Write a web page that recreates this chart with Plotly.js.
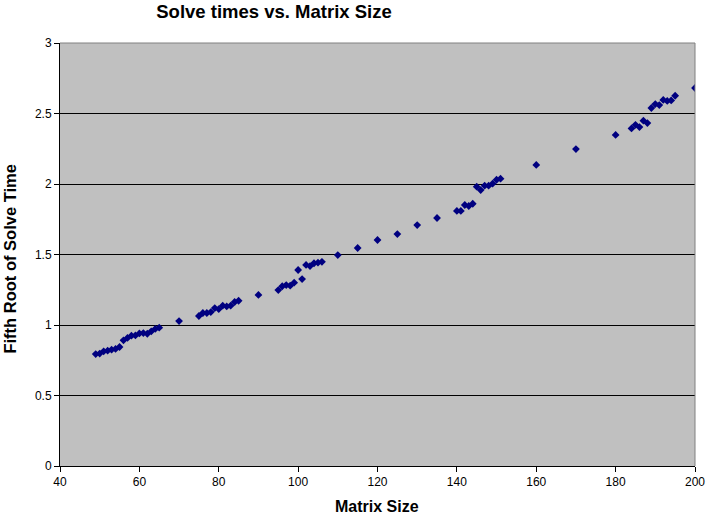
<!DOCTYPE html>
<html>
<head>
<meta charset="utf-8">
<script src="https://cdn.plot.ly/plotly-3.0.1.min.js"></script>
<style>
  html, body { margin: 0; padding: 0; background: #fff; }
  #chart { width: 707px; height: 518px; }
</style>
</head>
<body>
<div id="chart"></div>
<script>
// matrix sizes and fifth root of solve time
const matrixSize = [
  49, 50, 51, 52, 53, 54, 55,
  56, 57, 58, 59, 60, 61, 62, 63, 64, 65,
  70,
  75, 76, 77, 78, 79, 80, 81, 82, 83, 84, 85,
  90,
  95, 96, 97, 98, 99, 100, 101, 102, 103, 104, 105, 106,
  110, 115, 120, 125, 130, 135,
  140, 141, 142, 143, 144, 145, 146, 147, 148, 149, 150, 151,
  160, 170, 180,
  184, 185, 186, 187, 188, 189, 190, 191, 192, 193, 194, 195,
  200
];
const fifthRoot = [
  0.794, 0.797, 0.813, 0.818, 0.825, 0.830, 0.844,
  0.891, 0.908, 0.924, 0.926, 0.940, 0.943, 0.938, 0.955, 0.972, 0.981,
  1.028,
  1.064, 1.085, 1.085, 1.092, 1.120, 1.113, 1.137, 1.132, 1.137, 1.163, 1.172,
  1.213,
  1.248, 1.275, 1.283, 1.279, 1.300, 1.390, 1.326, 1.426, 1.418, 1.438, 1.442, 1.448,
  1.496, 1.546, 1.603, 1.645, 1.709, 1.759,
  1.809, 1.809, 1.851, 1.844, 1.860, 1.981, 1.957, 1.988, 1.988, 2.002, 2.030, 2.038,
  2.135, 2.248, 2.348,
  2.394, 2.420, 2.404, 2.449, 2.432, 2.539, 2.567, 2.560, 2.596, 2.589, 2.593, 2.626,
  2.681
];

const font = "Arial, 'Liberation Sans', sans-serif";

Plotly.newPlot('chart', [{
  x: matrixSize,
  y: fifthRoot,
  type: 'scatter',
  mode: 'markers',
  marker: { symbol: 'diamond', size: 6, color: '#000080', line: { width: 0 } },
  hoverinfo: 'x+y'
}], {
  width: 707,
  height: 518,
  margin: { l: 60, r: 12, t: 43, b: 52 },
  paper_bgcolor: '#ffffff',
  plot_bgcolor: '#c0c0c0',
  font: { family: font, size: 12, color: '#000' },
  showlegend: false,
  title: {
    text: '<b>Solve times vs. Matrix Size</b>',
    font: { family: font, size: 18.5, color: '#000' },
    x: 0.337, xref: 'paper', xanchor: 'center',
    y: 1, yref: 'container', yanchor: 'top', pad: { t: 5 }
  },
  xaxis: {
    range: [40, 200], dtick: 20, tick0: 40,
    showgrid: false, zeroline: false,
    showline: true, linecolor: '#000', linewidth: 1,
    ticks: 'outside', ticklen: 5, tickcolor: '#000',
    tickfont: { family: font, size: 12 },
    fixedrange: true
  },
  yaxis: {
    range: [0, 3], dtick: 0.5, tick0: 0,
    showgrid: true, gridcolor: '#000', gridwidth: 1,
    zeroline: false,
    showline: true, linecolor: '#000', linewidth: 1,
    ticks: 'outside', ticklen: 5, tickcolor: '#000',
    tickfont: { family: font, size: 12 },
    fixedrange: true
  },
  shapes: [
    { type: 'line', xref: 'paper', yref: 'paper', x0: 0, x1: 1, y0: 1, y1: 1,
      line: { color: '#808080', width: 1 }, layer: 'above' },
    { type: 'line', xref: 'paper', yref: 'paper', x0: 1, x1: 1, y0: 0, y1: 1,
      line: { color: '#808080', width: 1 }, layer: 'above' }
  ],
  annotations: [
    { text: '<b>Matrix Size</b>', xref: 'paper', yref: 'paper', x: 0.499, y: -0.095,
      xanchor: 'center', yanchor: 'middle', showarrow: false,
      font: { family: font, size: 16, color: '#000' } },
    { text: '<b>Fifth Root of Solve Time</b>', xref: 'paper', yref: 'paper', x: -0.079, y: 0.49,
      xanchor: 'center', yanchor: 'middle', textangle: -90, showarrow: false,
      font: { family: font, size: 16.5, color: '#000' } }
  ]
}, { displayModeBar: false, staticPlot: true });
</script>
</body>
</html>
